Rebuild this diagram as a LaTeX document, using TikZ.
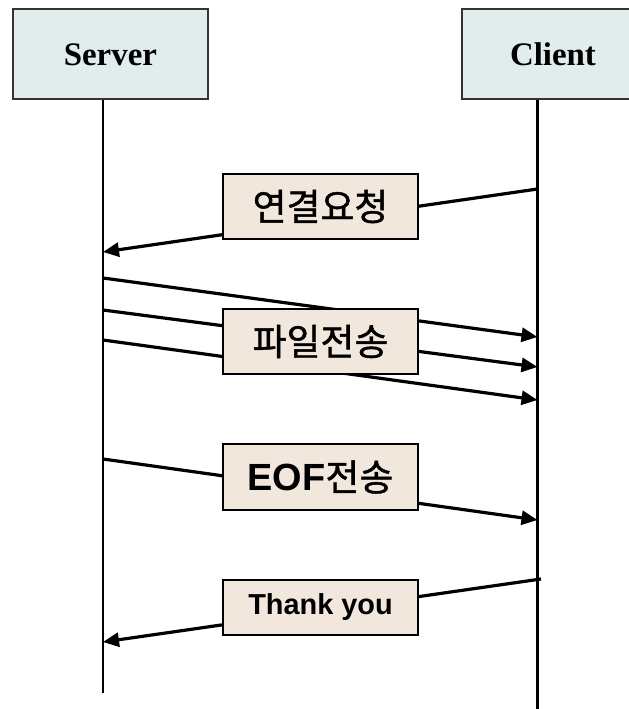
\documentclass[tikz,border=0pt]{standalone}
\usepackage{fontspec}
\setmainfont{Liberation Serif}
\newfontfamily\krfont{Noto Sans CJK KR}[FakeBold=1.2]
\newfontfamily\arialfont{Liberation Sans}
\usetikzlibrary{arrows.meta}
\definecolor{hdrfill}{HTML}{E1ECEC}
\definecolor{lblfill}{HTML}{F2E7DD}
\definecolor{hdrdraw}{HTML}{333333}
\tikzset{
  hdrbox/.style={draw=hdrdraw, line width=1.8bp, fill=hdrfill, minimum height=90bp, inner sep=0pt,
    font=\fontsize{33}{33}\selectfont\bfseries},
  lblbox/.style={draw=black, line width=2.8bp, fill=lblfill, minimum width=195bp, inner sep=0pt},
  krtext/.style={font=\fontsize{37}{37}\selectfont\krfont},
  lifeline/.style={line width=2.7bp, black},
  msg/.style={line width=3.2bp, black, -{Triangle[length=16bp,width=14bp]}},
}
\begin{document}
\begin{tikzpicture}[x=1bp,y=-1bp]
\useasboundingbox (0,0) rectangle (629,709);
\clip (0,0) rectangle (629,709);
% lifelines
\coordinate (stop) at (103,99);
\coordinate (sbot) at (103,693);
\coordinate (ctop) at (537.5,99);
\coordinate (cbot) at (537.5,709);
\draw[lifeline] (stop) -- (sbot);
\draw[lifeline] (ctop) -- (cbot);
% message end points
\coordinate (c1) at (537.5,189);  \coordinate (s1) at (103,252);
\coordinate (s2) at (103,278);    \coordinate (c2) at (537.5,337);
\coordinate (s3) at (103,310);    \coordinate (c3) at (537.5,367);
\coordinate (s4) at (103,340);    \coordinate (c4) at (537.5,400);
\coordinate (s5) at (103,459);    \coordinate (c5) at (537.5,520);
\coordinate (c6) at (541,579);    \coordinate (s6) at (103,642);
\draw[msg] (c1) -- (s1);
\draw[msg] (s2) -- (c2);
\draw[msg] (s3) -- (c3);
\draw[msg] (s4) -- (c4);
\draw[msg] (s5) -- (c5);
\draw[msg] (c6) -- (s6);
% header boxes
\node[hdrbox, minimum width=195bp] (server) at (110.4,54.3) {Server};
\node[hdrbox, minimum width=182bp] (client) at (553,54.3) {Client};
% label boxes
\node[lblbox, minimum height=65bp, krtext] (req) at (320.5,206.5) {연결요청};
\node[lblbox, minimum height=65bp, krtext] (file) at (320.5,341.5) {파일전송};
\node[lblbox, minimum height=66bp] (eof) at (320.5,477) {{\fontsize{38}{38}\selectfont\arialfont\bfseries EOF}{\fontsize{37}{37}\selectfont\krfont 전송}};
\node[lblbox, minimum height=55bp, font=\fontsize{29}{29}\selectfont\arialfont\bfseries] (thanks) at (320.5,607.5) {Thank you};
\end{tikzpicture}
\end{document}
